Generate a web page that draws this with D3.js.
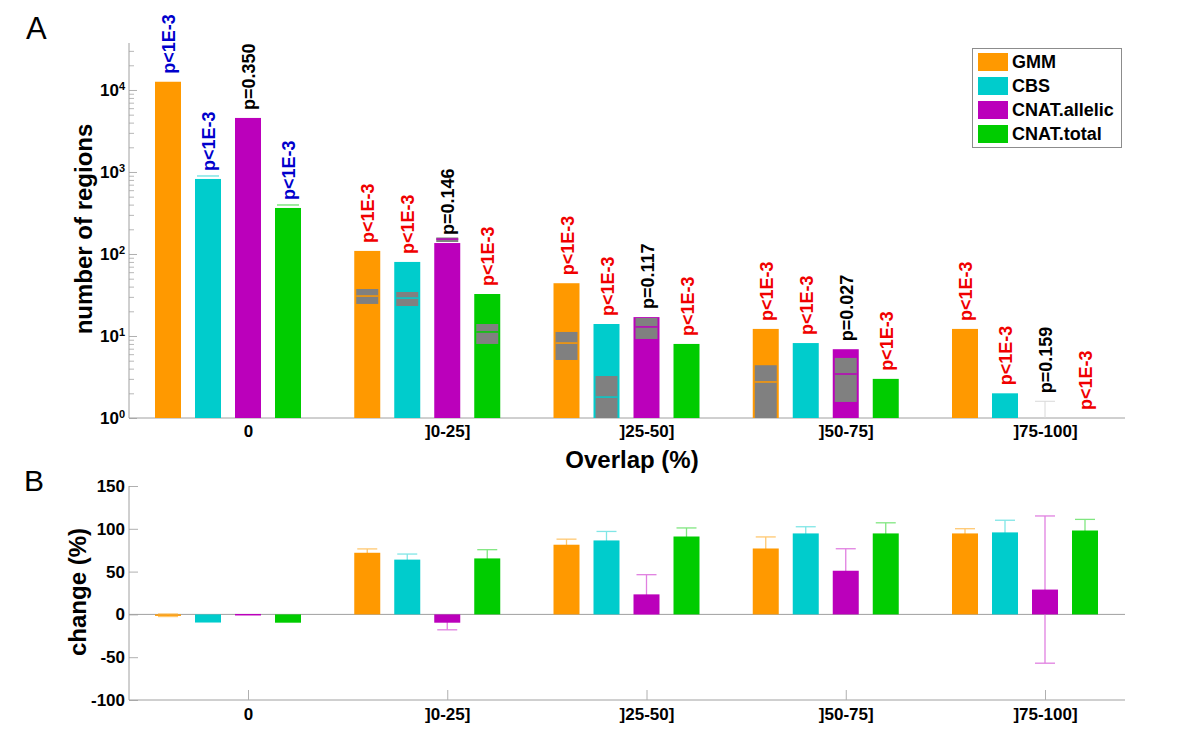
<!DOCTYPE html>
<html>
<head>
<meta charset="utf-8">
<script src="https://cdn.jsdelivr.net/npm/d3@7"></script>
<style>
  html, body { margin: 0; padding: 0; background: #fff; }
  svg { display: block; font-family: "Liberation Sans", Arial, sans-serif; }
</style>
</head>
<body>
<svg id="chart" width="1200" height="750"></svg>
<script>
// ---------------- data ----------------
const categories = ["0", "]0-25]", "]25-50]", "]50-75]", "]75-100]"];
const seriesNames = ["GMM", "CBS", "CNAT.allelic", "CNAT.total"];

// panel A: number of regions (log scale)
const countGMM     = [12600, 109, 44, 12.2, 12.2];
const countCBS     = [822, 80, 14, 8.2, 2.0];
const countAllelic = [4560, 136, 17, 6.9, 0];
const countTotal   = [364, 32.5, 8.0, 3.0, 0];

// expected ranges [low, median, high] drawn as grey boxes
const boxGMM     = [null, [24.6, 30.7, 37.4], [5.1, 8.2, 11.2], [1, 2.75, 4.4], null];
const boxCBS     = [[894, 894, 894], [23.2, 29, 34.4], [1, 1.8, 3.25], null, null];
const boxAllelic = [null, [140, 152, 159], [9.2, 12.9, 16.6], [1.57, 3.44, 5.4], null];
const boxTotal   = [[396, 396, 396], [8, 11.2, 14], null, null, null];

// faint whisker tops for empty bars
const whiskerGMM     = [null, null, null, null, null];
const whiskerCBS     = [null, null, null, null, null];
const whiskerAllelic = [null, null, null, null, 1.6];
const whiskerTotal   = [null, null, null, null, null];

// p-value labels
const pGMM     = ["p<1E-3", "p<1E-3", "p<1E-3", "p<1E-3", "p<1E-3"];
const pCBS     = ["p<1E-3", "p<1E-3", "p<1E-3", "p<1E-3", "p<1E-3"];
const pAllelic = ["p=0.350", "p=0.146", "p=0.117", "p=0.027", "p=0.159"];
const pTotal   = ["p<1E-3", "p<1E-3", "p<1E-3", "p<1E-3", "p<1E-3"];

// panel B: change (%) with error
const changeGMM     = [-1, 72, 81.4, 77, 94.6];
const changeCBS     = [-9.5, 64, 86.4, 94.6, 95.8];
const changeAllelic = [0.5, -9.7, 23.4, 51, 29];
const changeTotal   = [-9.7, 65.4, 91, 94.6, 98];
const errGMM     = [1.5, 4.5, 6.5, 13.5, 5.5];
const errCBS     = [0, 6.5, 10.5, 7.8, 14.2];
const errAllelic = [0, 8.3, 23, 25.7, 86];
const errTotal   = [0, 10.2, 10, 12.4, 13];

const yTicksA = [1, 10, 100, 1000, 10000];
const yTicksB = [-100, -50, 0, 50, 100, 150];

// ---------------- styles ----------------
const barColors = ["#FF9900", "#00CCCC", "#BB00BB", "#00CC00"];
const errColors = ["#FFC870", "#80E6E6", "#E080E0", "#80E680"];
const axisColor = "#a0a0a0";

const counts = [countGMM, countCBS, countAllelic, countTotal];
const boxes = [boxGMM, boxCBS, boxAllelic, boxTotal];
const whiskers = [whiskerGMM, whiskerCBS, whiskerAllelic, whiskerTotal];
const pvals = [pGMM, pCBS, pAllelic, pTotal];
const changes = [changeGMM, changeCBS, changeAllelic, changeTotal];
const errs = [errGMM, errCBS, errAllelic, errTotal];

const svg = d3.select("#chart");

// layout
const L = 129, R = 1125;
const A = { top: 43, bottom: 418 };
const B = { top: 486, bottom: 700 };

const x = d3.scalePoint().domain(categories).range([248, 1045]);
const sub = d3.scaleBand().domain(seriesNames).range([-100, 60]).paddingInner(0.35).paddingOuter(0.175);
const bw = sub.bandwidth();

const yA = d3.scaleLog().domain([1, 37400]).range([A.bottom, A.top]);
const yB = d3.scaleLinear().domain([-100, 150]).range([B.bottom, B.top]);

// ---------------- panel A ----------------
const gA = svg.append("g");

// minor ticks
const minorTicks = [];
for (let e = 0; e <= 4; e++) for (let m = 2; m <= 9; m++) {
  const v = m * Math.pow(10, e);
  if (v <= 37400) minorTicks.push(v);
}
const minorAxis = gA.append("g").attr("transform", `translate(${L},0)`)
  .call(d3.axisLeft(yA).tickValues(minorTicks).tickSize(-5).tickFormat(""));
minorAxis.select(".domain").remove();
minorAxis.selectAll("line").attr("stroke", "#b8b8b8");

const majorAxis = gA.append("g").attr("transform", `translate(${L},0)`)
  .call(d3.axisLeft(yA).tickValues(yTicksA).tickSize(-8).tickFormat(""));
majorAxis.select(".domain").remove();
majorAxis.selectAll("line").attr("stroke", "#b0b0b0");
majorAxis.selectAll(".tick").each(function(d) {
  const t = d3.select(this).append("text")
    .attr("x", -4).attr("y", 0).attr("dy", "0.35em")
    .attr("text-anchor", "end").attr("fill", "#000")
    .style("font-size", "17px").style("font-weight", "bold");
  t.append("tspan").text("10");
  t.append("tspan").attr("dy", "-0.55em").style("font-size", "11px").text(Math.round(Math.log10(d)));
});

gA.append("line").attr("x1", L).attr("x2", L).attr("y1", A.top).attr("y2", A.bottom)
  .attr("stroke", axisColor);
gA.append("line").attr("x1", L).attr("x2", R).attr("y1", A.bottom).attr("y2", A.bottom)
  .attr("stroke", axisColor);

const xAxisA = gA.append("g").attr("transform", `translate(0,${A.bottom})`)
  .call(d3.axisBottom(x).tickSize(0).tickPadding(7));
xAxisA.select(".domain").remove();
xAxisA.selectAll("text").attr("fill", "#000").style("font-size", "17px").style("font-weight", "bold")
  .style("font-family", "'Liberation Sans', Arial, sans-serif");

seriesNames.forEach((s, si) => {
  categories.forEach((c, ci) => {
    const v = counts[si][ci];
    const x0 = x(c) + sub(s);
    if (v > 0) {
      gA.append("rect").attr("x", x0).attr("width", bw)
        .attr("y", yA(v)).attr("height", yA(1) - yA(v)).attr("fill", barColors[si]);
    }
    const b = boxes[si][ci];
    if (b) {
      gA.append("rect").attr("x", x0 + 2).attr("width", bw - 4)
        .attr("y", yA(b[2])).attr("height", yA(b[0]) - yA(b[2])).attr("fill", "#808080");
      gA.append("line").attr("x1", x0 + 2).attr("x2", x0 + bw - 2)
        .attr("y1", yA(b[1])).attr("y2", yA(b[1]))
        .attr("stroke", b[0] === b[2] ? errColors[si] : barColors[si]).attr("stroke-width", 1.5);
    }
    const w = whiskers[si][ci];
    if (w) {
      const cx = x0 + bw / 2;
      gA.append("line").attr("x1", cx - 10).attr("x2", cx + 10).attr("y1", yA(w)).attr("y2", yA(w))
        .attr("stroke", "#d8d8d8");
      gA.append("line").attr("x1", cx).attr("x2", cx).attr("y1", yA(w)).attr("y2", yA(1))
        .attr("stroke", "#d8d8d8");
    }
    const p = pvals[si][ci];
    const top = Math.max(v > 0 ? v : 1, w || 1);
    const col = p.startsWith("p=") ? "#000000" : (ci === 0 ? "#0000CC" : "#F00000");
    const tx = x0 + bw / 2 + 1, ty = yA(top) - 8;
    gA.append("text").attr("transform", `translate(${tx},${ty}) rotate(-90)`)
      .attr("dominant-baseline", "central").attr("text-anchor", "start")
      .attr("fill", col).style("font-size", "18px").style("font-weight", "bold").text(p);
  });
});

// legend
const lg = svg.append("g");
lg.append("rect").attr("x", 972.5).attr("y", 48.5).attr("width", 149).attr("height", 99)
  .attr("fill", "#fff").attr("stroke", "#8c8c8c");
seriesNames.forEach((s, i) => {
  const cy = 62 + i * 24;
  lg.append("rect").attr("x", 978).attr("y", cy - 9).attr("width", 30).attr("height", 18).attr("fill", barColors[i]);
  lg.append("text").attr("x", 1012).attr("y", cy).attr("dominant-baseline", "central")
    .style("font-size", "18px").style("font-weight", "bold").text(s);
});

// axis titles / panel labels
svg.append("text").attr("transform", "translate(83,229) rotate(-90)")
  .attr("text-anchor", "middle").attr("dominant-baseline", "central")
  .style("font-size", "24px").style("font-weight", "bold").text("number of regions");
svg.append("text").attr("x", 632).attr("y", 468).attr("text-anchor", "middle")
  .style("font-size", "24px").style("font-weight", "bold").text("Overlap (%)");
svg.append("text").attr("x", 26).attr("y", 39).style("font-size", "31px").text("A");
svg.append("text").attr("x", 24).attr("y", 491).style("font-size", "30px").text("B");

// ---------------- panel B ----------------
const gB = svg.append("g");
const yAxisB = gB.append("g").attr("transform", `translate(${L},0)`)
  .call(d3.axisLeft(yB).tickValues(yTicksB).tickSize(-9).tickPadding(4).tickFormat(d => String(d)));
yAxisB.select(".domain").remove();
yAxisB.selectAll("line").attr("stroke", "#b0b0b0");
yAxisB.selectAll("text").attr("fill", "#000").style("font-size", "17px").style("font-weight", "bold")
  .style("font-family", "'Liberation Sans', Arial, sans-serif");

gB.append("line").attr("x1", L).attr("x2", L).attr("y1", B.top).attr("y2", B.bottom).attr("stroke", axisColor);
gB.append("line").attr("x1", L).attr("x2", R).attr("y1", B.bottom).attr("y2", B.bottom).attr("stroke", axisColor);
gB.append("line").attr("x1", L).attr("x2", R).attr("y1", yB(0)).attr("y2", yB(0)).attr("stroke", axisColor);

const xAxisB = gB.append("g").attr("transform", `translate(0,${B.bottom})`)
  .call(d3.axisBottom(x).tickSize(-10).tickPadding(8));
xAxisB.select(".domain").remove();
xAxisB.selectAll("line").attr("stroke", "#b0b0b0");
xAxisB.selectAll("text").attr("fill", "#000").style("font-size", "17px").style("font-weight", "bold")
  .style("font-family", "'Liberation Sans', Arial, sans-serif");

// error bars first, then bars
seriesNames.forEach((s, si) => {
  categories.forEach((c, ci) => {
    const v = changes[si][ci], e = errs[si][ci];
    if (!e) return;
    const cx = x(c) + sub(s) + bw / 2;
    const lo = v - e, hi = v + e;
    gB.append("line").attr("x1", cx).attr("x2", cx).attr("y1", yB(lo)).attr("y2", yB(hi))
      .attr("stroke", errColors[si]).attr("stroke-width", 1.3);
    [lo, hi].forEach(val => {
      gB.append("line").attr("x1", cx - 10).attr("x2", cx + 10).attr("y1", yB(val)).attr("y2", yB(val))
        .attr("stroke", errColors[si]).attr("stroke-width", 1.3);
    });
  });
});
seriesNames.forEach((s, si) => {
  categories.forEach((c, ci) => {
    const v = changes[si][ci];
    const x0 = x(c) + sub(s);
    gB.append("rect").attr("x", x0).attr("width", bw)
      .attr("y", Math.min(yB(v), yB(0))).attr("height", Math.max(1.5, Math.abs(yB(v) - yB(0))))
      .attr("fill", barColors[si]);
  });
});

svg.append("text").attr("transform", "translate(77,592) rotate(-90)")
  .attr("text-anchor", "middle").attr("dominant-baseline", "central")
  .style("font-size", "24px").style("font-weight", "bold").text("change (%)");
</script>
</body>
</html>
